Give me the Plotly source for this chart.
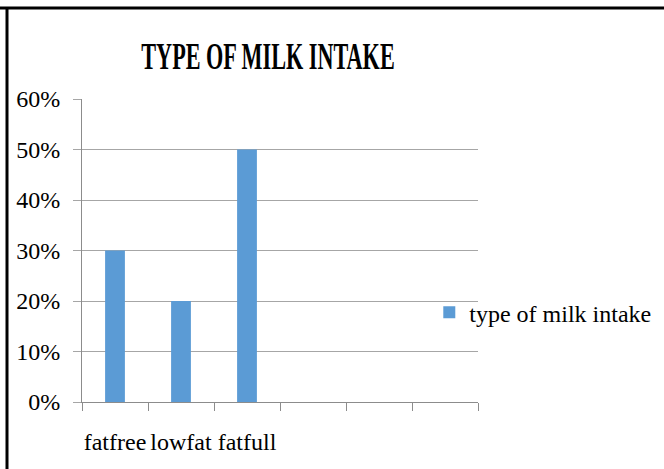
import plotly.graph_objects as go

categories = ["fatfree", "lowfat", "fatfull", " ", "  ", "   "]
values = [0.30, 0.20, 0.50, None, None, None]
series_name = "type of milk intake"
title_text = "TYPE OF MILK INTAKE"
y_tickvals = [0, 0.1, 0.2, 0.3, 0.4, 0.5, 0.6]
y_ticktext = ["0%", "10%", "20%", "30%", "40%", "50%", "60%"]

serif = "Liberation Serif, Times New Roman, serif"

fig = go.Figure()
fig.add_trace(go.Bar(
    x=categories, y=values, name=series_name,
    marker=dict(color="#5B9BD5", line=dict(width=0)),
    showlegend=True,
))

fig.update_layout(
    width=664, height=469,
    margin=dict(l=82, r=186, t=99, b=67, autoexpand=False),
    paper_bgcolor="white", plot_bgcolor="white",
    bargap=0.70,
    title=dict(text=title_text, x=(268 - 82) / 396, xref="paper", xanchor="center",
               y=1 - 56 / 469, yanchor="middle",
               font=dict(family=serif, size=37, color="black", weight="bold")),
    font=dict(family=serif, color="black"),
    legend=dict(x=0.877, xanchor="left", y=0.295, yanchor="middle",
                font=dict(family=serif, size=24, color="black"),
                bgcolor="rgba(0,0,0,0)", itemwidth=30),
    xaxis=dict(type="category", categoryorder="array", categoryarray=categories,
               range=[-0.5, 5.5], showgrid=False, showline=True, linecolor="#8c8c8c", linewidth=1,
               ticks="outside", tickson="boundaries", ticklen=8, tickcolor="#8c8c8c",
               tickangle=0, automargin=False,
               tickfont=dict(family=serif, size=24, color="black"), ticklabelstandoff=18),
    yaxis=dict(range=[0, 0.6], tickvals=y_tickvals, ticktext=y_ticktext,
               showgrid=True, gridcolor="#a6a6a6", gridwidth=1,
               showline=True, linecolor="#8c8c8c", linewidth=1,
               ticks="outside", ticklen=8, tickcolor="#a6a6a6", automargin=False,
               ticklabelstandoff=8,
               tickfont=dict(family=serif, size=24, color="black"), zeroline=False),
    shapes=[
        dict(type="line", xref="paper", yref="paper", x0=-82/396, x1=(664-82)/396,
             y0=1 + 91/303, y1=1 + 91/303, line=dict(color="black", width=3)),
        dict(type="line", xref="paper", yref="paper", x0=-75/396, x1=-75/396,
             y0=1 + 92/303, y1=-70/303, line=dict(color="black", width=3)),
    ],
)

post = """
var t = document.querySelector('.gtitle');
if (t) { t.style.transformBox = 'fill-box'; t.style.transformOrigin = 'center'; t.style.transform = 'scaleX(0.6)'; }
"""
fig.write_html("out.html", post_script=post)
